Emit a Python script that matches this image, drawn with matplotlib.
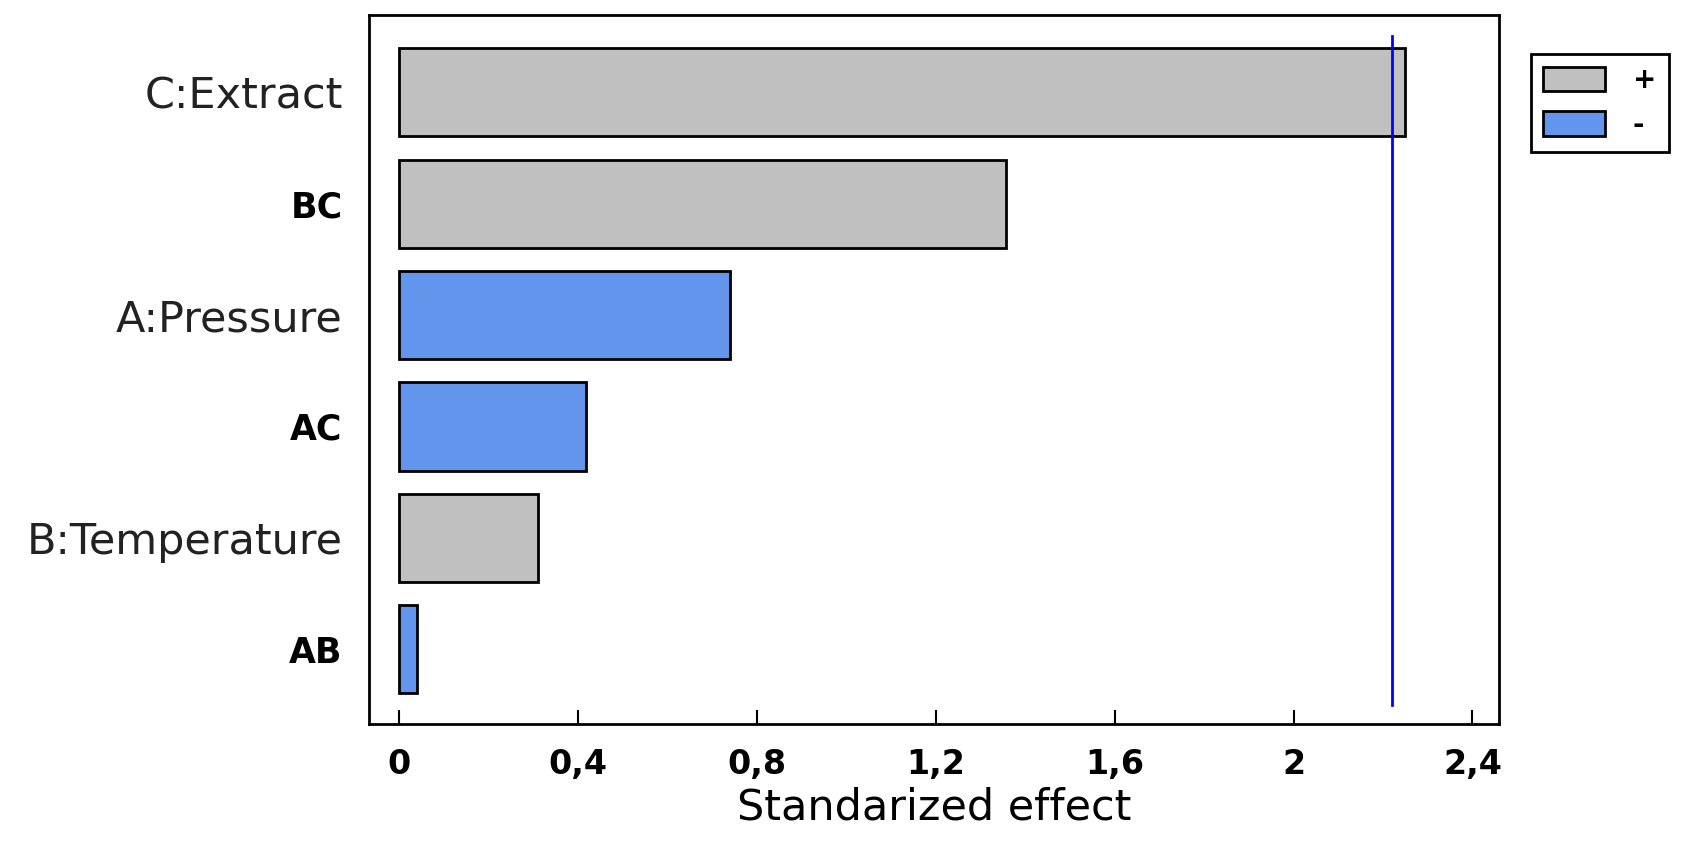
import matplotlib
matplotlib.use("Agg")
import matplotlib.pyplot as plt
from matplotlib.patches import Patch

factors = ["C:Extract", "BC", "A:Pressure", "AC", "B:Temperature", "AB"]
effects = [2.249, 1.358, 0.739, 0.418, 0.310, 0.041]
signs = ["+", "+", "-", "-", "+", "-"]
critical_value = 2.22
xticks = [0, 0.4, 0.8, 1.2, 1.6, 2.0, 2.4]
xtick_labels = ["0", "0,4", "0,8", "1,2", "1,6", "2", "2,4"]
bold_labels = {"BC", "AC", "AB"}

pos_color = "#c0c0c0"
neg_color = "#6495ed"

fig = plt.figure(figsize=(16.82, 8.42), dpi=100)
ax = fig.add_axes([0.2194, 0.140, 0.672, 0.842])

ypos = list(range(len(factors)))
colors = [pos_color if s == "+" else neg_color for s in signs]
ax.barh(ypos, effects, height=0.79, color=colors, edgecolor="black", linewidth=2)
ax.plot([critical_value, critical_value], [-0.5, 5.5], color="#0000ff", linewidth=2)

ax.set_ylim(5.67, -0.69)
ax.set_xlim(-0.067, 2.46)
ax.set_yticks(ypos)
ax.set_yticklabels(factors)
for lbl in ax.get_yticklabels():
    if lbl.get_text() in bold_labels:
        lbl.set_fontweight("bold")
        lbl.set_fontsize(25)
    else:
        lbl.set_fontsize(31)
        lbl.set_color("#222222")
ax.tick_params(axis="y", length=0, pad=19)

ax.set_xticks(xticks)
ax.set_xticklabels(xtick_labels, fontsize=24, fontweight="bold")
ax.tick_params(axis="x", direction="in", length=10, width=1.5, pad=17)
ax.set_xlabel("Standarized effect", fontsize=31, labelpad=4)

for sp in ax.spines.values():
    sp.set_linewidth(2)
    sp.set_color("black")

handles = [Patch(facecolor=pos_color, edgecolor="black", linewidth=2, label="+"),
           Patch(facecolor=neg_color, edgecolor="black", linewidth=2, label="-")]
leg = fig.legend(handles=handles, loc="upper left", bbox_to_anchor=(0.910, 0.936),
                 bbox_transform=fig.transFigure, fontsize=20, handlelength=2.23,
                 handleheight=0.97, labelspacing=0.6, handletextpad=1.0,
                 borderpad=0.45, borderaxespad=0, fancybox=False, framealpha=1,
                 edgecolor="black", prop={"weight": "bold", "size": 20})
leg.get_frame().set_linewidth(2)

fig.savefig("out.png", dpi=100)
